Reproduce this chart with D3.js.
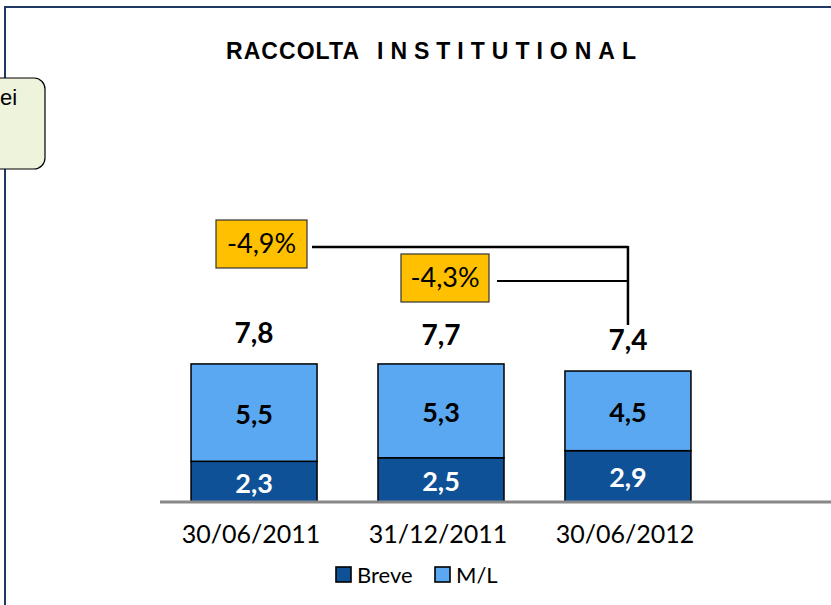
<!DOCTYPE html>
<html>
<head>
<meta charset="utf-8">
<script src="https://cdnjs.cloudflare.com/ajax/libs/d3/7.8.5/d3.min.js"></script>
<style>
  body { margin: 0; background: #fff; }
  svg { display: block; }
</style>
</head>
<body>
<svg id="chart" width="831" height="605"></svg>
<script>
var categories = ["30/06/2011", "31/12/2011", "30/06/2012"];
var breve = [2.3, 2.5, 2.9];
var ml = [5.5, 5.3, 4.5];
var totals = [7.8, 7.7, 7.4];
var varLabels = ["-4,9%", "-4,3%"];
var titleWords = ["RACCOLTA", "INSTITUTIONAL"];

var width = 831, height = 605;
var baseY = 502;
var svg = d3.select("#chart");
var fmt = function(v){ return d3.format(".1f")(v).replace(".", ","); };
var lab = "Lato, 'Open Sans', sans-serif";
var arial = "'Liberation Sans', Arial, sans-serif";

// frame
svg.append("path")
  .attr("d", "M5," + height + " V7 H" + width)
  .attr("fill", "none")
  .attr("stroke", "#1f3864")
  .attr("stroke-width", 2);

// callout box cut by the left edge
svg.append("rect")
  .attr("x", -20).attr("y", 78)
  .attr("width", 65).attr("height", 91)
  .attr("rx", 11)
  .attr("fill", "#eef3dc")
  .attr("stroke", "#000")
  .attr("stroke-width", 1.2);
svg.append("text")
  .attr("x", 0).attr("y", 105)
  .attr("font-family", arial)
  .attr("font-size", 22)
  .text("ei");

// title (two words, the second one spaced out as in the original)
var titleX = [226, 377], titleW = [133, 259];
titleWords.forEach(function(t, k){
  svg.append("text")
    .attr("x", titleX[k]).attr("y", 59)
    .attr("font-family", arial)
    .attr("font-weight", "bold")
    .attr("font-size", 23)
    .attr("textLength", titleW[k])
    .attr("lengthAdjust", "spacing")
    .text(t);
});

var x = d3.scaleBand()
  .domain(categories)
  .range([160, 722])
  .paddingInner(0.326)
  .paddingOuter(0.166);

var y = d3.scaleLinear()
  .domain([0, 10])
  .range([baseY, baseY - 177]);

// bars
var g = svg.append("g");
categories.forEach(function(c, i){
  var x0 = x(c), w = x.bandwidth();
  g.append("rect")
    .attr("x", x0).attr("y", y(breve[i]))
    .attr("width", w).attr("height", baseY - y(breve[i]))
    .attr("fill", "#0f5196").attr("stroke", "#000").attr("stroke-width", 1.5);
  g.append("rect")
    .attr("x", x0).attr("y", y(breve[i] + ml[i]))
    .attr("width", w).attr("height", y(breve[i]) - y(breve[i] + ml[i]))
    .attr("fill", "#59a8f1").attr("stroke", "#000").attr("stroke-width", 1.5);

  g.append("text")
    .attr("x", x0 + w / 2).attr("y", (y(breve[i]) + baseY) / 2 + 11)
    .attr("text-anchor", "middle")
    .attr("font-family", lab).attr("font-weight", "bold").attr("font-size", 27)
    .attr("fill", "#fff")
    .text(fmt(breve[i]));
  g.append("text")
    .attr("x", x0 + w / 2).attr("y", (y(breve[i]) + y(breve[i] + ml[i])) / 2 + 11)
    .attr("text-anchor", "middle")
    .attr("font-family", lab).attr("font-weight", "bold").attr("font-size", 27)
    .attr("fill", "#000")
    .text(fmt(ml[i]));
  g.append("text")
    .attr("x", x0 + w / 2).attr("y", y(totals[i]) - 21)
    .attr("text-anchor", "middle")
    .attr("font-family", lab).attr("font-weight", "bold").attr("font-size", 28)
    .attr("fill", "#000")
    .text(fmt(totals[i]));
});

// baseline
svg.append("line")
  .attr("x1", 160).attr("x2", width)
  .attr("y1", baseY).attr("y2", baseY)
  .attr("stroke", "#888").attr("stroke-width", 3);

// category axis
var axis = svg.append("g")
  .attr("transform", "translate(-3," + baseY + ")")
  .call(d3.axisBottom(x).tickSize(0).tickPadding(0));
axis.select(".domain").remove();
axis.selectAll("text")
  .attr("font-family", lab).attr("font-size", 25).attr("fill", "#000")
  .attr("y", 41).attr("dy", 0);

// variation annotations
var last = categories.length - 1;
var lx = x(categories[last]) + x.bandwidth() / 2;
var boxes = [{ x: 216, y: 220, w: 91, h: 48 }, { x: 401, y: 254, w: 88, h: 48 }];
var lineStart = [312, 497];
varLabels.forEach(function(t, k){
  var b = boxes[k];
  var ly = b.y + b.h / 2 + 3;
  svg.append("line")
    .attr("x1", lineStart[k]).attr("x2", lx)
    .attr("y1", ly).attr("y2", ly)
    .attr("stroke", "#000").attr("stroke-width", k === 0 ? 2.5 : 2);
  svg.append("rect")
    .attr("x", b.x).attr("y", b.y).attr("width", b.w).attr("height", b.h)
    .attr("fill", "#ffc000").attr("stroke", "#333").attr("stroke-width", 1.2);
  svg.append("text")
    .attr("x", b.x + b.w / 2).attr("y", b.y + b.h / 2 + 9)
    .attr("text-anchor", "middle")
    .attr("font-family", lab).attr("font-size", 27)
    .text(t);
});
svg.append("line")
  .attr("x1", lx).attr("x2", lx)
  .attr("y1", boxes[0].y + boxes[0].h / 2 + 2)
  .attr("y2", y(totals[last]) - 46)
  .attr("stroke", "#000").attr("stroke-width", 2.5);

// legend
var legend = [{ name: "Breve", color: "#0f5196", x: 336 }, { name: "M/L", color: "#59a8f1", x: 435 }];
legend.forEach(function(d){
  svg.append("rect")
    .attr("x", d.x).attr("y", 567).attr("width", 15).attr("height", 15)
    .attr("fill", d.color).attr("stroke", "#000").attr("stroke-width", 1.6);
  svg.append("text")
    .attr("x", d.x + 21).attr("y", 583)
    .attr("font-family", lab).attr("font-size", 22)
    .text(d.name);
});
</script>
</body>
</html>
